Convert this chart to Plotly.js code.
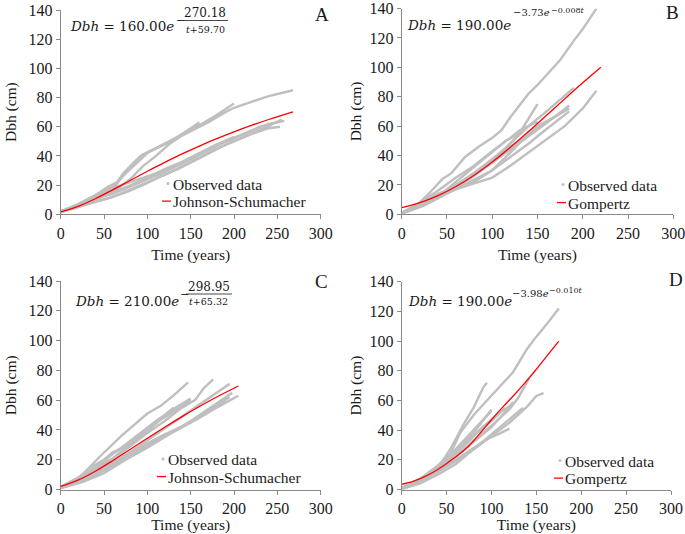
<!DOCTYPE html>
<html><head><meta charset="utf-8">
<script src="https://cdn.plot.ly/plotly-3.0.1.min.js"></script>
<style>html,body{margin:0;padding:0;background:#fff}#chart{width:685px;height:534px}</style>
</head><body><div id="chart"></div>
<script>
// ---------- DATA (time in years, Dbh in cm) ----------
// Each observed tree: [times, dbh]
const obsA = [
  [[0,10,25,40,55,65,72,85,95,110,130,150,170,190,200,220,240,268],[2,4,8,13,19,22,28,36,41,45,51,57,63,70,73,77,81,85]],
  [[0,15,30,45,60,70,80,92,105,120,140,160,180,200],[1.5,5,9,13,17,25,32,40,44,48,55,61,68,76]],
  [[0,15,30,50,62,75,90,100,115,135,150,160],[2,5,10,16,20,28,36,42,47,53,59,63]],
  [[0,20,40,60,80,95,110,125,140,155,160],[2,5,10,15,24,33,40,48,54,60,62]],
  [[0,20,40,60,80,100,120,140,160,180,200,220,240,253],[1.5,5,9,12,17,22,27,33,39,45,50,55,59,60]],
  [[0,20,40,60,80,100,120,140,160,180,200,220,240,258],[2,6,11,14,19,24,29,35,41,47,52,57,62,64]],
  [[0,15,35,55,75,95,115,135,155,175,195,215,235,255],[1.5,4,8,11,15,20,26,31,37,43,49,54,59,65]],
  [[0,20,40,55,70,90,110,130,150,170,190,210,230,250],[2,7,13,17,20,24,28,33,38,44,50,55,60,63]],
  [[0,25,45,65,85,100,120,140,160,180,200],[2,7,12,16,21,25,31,36,42,48,53]]
];
const fitA_t = [0,10,20,40,60,80,100,120,140,160,180,200,220,240,268];
const fitA_d = [1.73,3.32,5.39,10.64,16.75,23.13,29.47,35.58,41.36,46.78,51.83,56.53,60.90,64.96,70.2];

const obsB = [
  [[0,15,30,45,55,70,85,100,110,120,130,140,150,160,175,190,200,215],[1,5,14,24,28,39,46,52,57,66,74,82,88,95,105,118,126,140]],
  [[0,20,40,60,80,100,120,140,160,175,190],[1,6,13,20,28,37,48,60,70,78,86]],
  [[0,20,40,60,80,100,120,140,160,180,200,215],[1,6,12,17,21,25,33,42,51,60,72,84]],
  [[0,20,40,60,80,100,115,130,140,150],[0.5,5,11,18,28,38,45,55,65,75]],
  [[0,25,50,75,100,120,140,160,185],[1,7,15,24,35,44,53,62,74]],
  [[0,25,50,75,100,120,140,160,185],[1,8,16,26,37,46,54,63,72]],
  [[0,25,50,75,100,120,140,160,180,185],[0.5,6,14,22,30,39,48,58,68,70]],
  [[0,20,40,60,80,100,120,140,150,168],[1,7,14,19,22,30,42,55,60,66]],
  [[0,20,40,60,80,100,120,130,150],[1,8,16,25,33,43,52,57,63]],
  [[0,20,40,60,80,100,115,130],[1,6,12,22,32,42,50,55]]
];
const fitB_t = [0,10,20,30,40,60,80,100,120,140,160,180,200,220];
const fitB_d = [4.56,6.07,7.92,10.10,12.66,18.90,26.58,35.56,45.55,56.26,67.36,78.52,89.48,100.0];

const obsC = [
  [[0,20,45,70,100,115,130,147],[1,7,22,36,51,56,63,72]],
  [[0,20,40,60,80,100,120,140,155,165,176],[1.5,6,12,20,29,38,46,55,60,68,74]],
  [[0,20,40,60,80,100,120,140,160,180,195],[1,6,12,18,25,33,41,49,57,65,71]],
  [[0,20,40,60,80,100,120,140,160,180,205],[1,5,11,17,24,31,37,42,48,55,63]],
  [[0,20,40,60,80,100,120,140,160,180,198],[1,5,10,16,22,29,36,42,50,58,65]],
  [[0,20,35,50,70,90,110,130,150],[2,8,15,20,28,37,46,54,61]],
  [[0,20,40,60,80,100,120,140,150],[1,6,14,24,31,40,49,56,60]],
  [[0,20,40,60,75,90,110,130,145],[1,7,15,25,29,36,45,52,57]],
  [[0,25,50,75,100,125,150,170,190],[1,6,13,22,30,38,46,52,60]],
  [[0,25,50,75,100,125,150,175,195],[1,5,11,20,28,37,45,55,62]],
  [[0,20,40,60,80,100,120,130],[1.5,7,14,21,30,39,50,55]]
];
const fitC_t = [0,20,40,60,80,100,120,140,160,180,205];
const fitC_d = [2.16,6.32,12.29,19.33,26.84,34.43,41.84,48.97,55.72,62.09,69.49];

const obsD = [
  [[0,20,40,55,65,80,98,110,124,140,150,165,175],[0,5,14,25,38,50,62,70,79,95,103,114,122]],
  [[0,20,40,55,70,80,91,95],[0.5,5,14,28,45,55,69,72]],
  [[0,20,40,60,80,90,100],[1,6,14,25,38,46,54]],
  [[0,20,40,60,80,100,120,130,142],[1,6,13,22,33,43,54,62,75]],
  [[0,20,40,60,80,100,120,140,150,158],[0.5,5,12,19,27,36,45,56,63,65]],
  [[0,20,40,60,80,95,110,120],[1,5,12,20,28,34,38,41]],
  [[0,20,40,60,80,100,115,124],[0.5,5,13,22,32,42,52,59]],
  [[0,20,40,60,80,95,100],[1,7,16,27,40,50,53]],
  [[0,25,50,70,90,110,125],[0.5,6,18,30,42,52,58]],
  [[0,20,40,60,80,100,115],[1,6,14,24,36,46,55]],
  [[0,20,40,60,80,100,120,135],[0.5,4,10,17,27,37,47,55]]
];
const fitD_t = [0,12.5,25,37.5,50,62.5,75,87.5,100,112.5,125,137.5,150,162.5,175];
const fitD_d = [3.5,5.5,8.5,12.5,17.5,23,29.5,38,47,55.5,63.5,72,81,90.5,100];

const xTicks = [0,50,100,150,200,250,300];
const yTicks = [0,20,40,60,80,100,120,140];
const obsName = 'Observed data';
const fitNames = ['Johnson-Schumacher','Gompertz','Johnson-Schumacher','Gompertz'];
const panelLetters = ['A','B','C','D'];

// ---------- BUILD ----------
const W = 685, H = 534;
const px = v => v / W;
const py = v => 1 - v / H;
const GRAY = '#bfbfbf', TXT = '#1a1a1a', AX = '#8a8a8a';
const SERIF = 'Liberation Serif, Times New Roman, serif';
const MATH = 'DejaVu Serif, serif';
const TXTSIZE = 15.5;
const LEGSIZE = 15.5;

function joinTracks(tracks) {
  const x = [], y = [];
  tracks.forEach((tr, i) => {
    if (i > 0) { x.push(null); y.push(null); }
    x.push(...tr[0]); y.push(...tr[1]);
  });
  return {x, y};
}

const panels = [
  {obs: obsA, ft: fitA_t, fd: fitA_d, xa:'x',  ya:'y'},
  {obs: obsB, ft: fitB_t, fd: fitB_d, xa:'x2', ya:'y2'},
  {obs: obsC, ft: fitC_t, fd: fitC_d, xa:'x3', ya:'y3'},
  {obs: obsD, ft: fitD_t, fd: fitD_d, xa:'x4', ya:'y4'}
];
const lgName = n => n === 1 ? 'legend' : 'legend' + n;

const traces = [];
panels.forEach((p, i) => {
  const j = joinTracks(p.obs);
  traces.push({x: j.x, y: j.y, mode:'lines', line:{color:GRAY, width:2.4},
    xaxis:p.xa, yaxis:p.ya, showlegend:false, hoverinfo:'skip', connectgaps:false});
  traces.push({x:[p.obs[0][0][0]], y:[p.obs[0][1][0]], mode:'markers', name: obsName,
    marker:{color:GRAY, size:3}, xaxis:p.xa, yaxis:p.ya, legend:lgName(2*i+1), showlegend:true});
  traces.push({x:p.ft, y:p.fd, mode:'lines', name: fitNames[i],
    line:{color:'#ff0000', width:1.3, shape:'spline'}, xaxis:p.xa, yaxis:p.ya, legend:lgName(2*i+2)});
});

// domains in pixels
const dom = [
  {x:[60.7,320.7], y:[10,214.3]},
  {x:[401.7,673.3], y:[8.5,214.3]},
  {x:[60.7,320.7], y:[281,489.5]},
  {x:[401.7,671], y:[281.7,489.5]}
];
const xStand = [8, 8, 8, 7];
const yStand = [8, 4, 8, 4];

function xAxis(i) {
  return {domain:[px(dom[i].x[0]), px(dom[i].x[1])], anchor: i===0?'y':'y'+(i+1),
    range:[0,300], tickvals:xTicks, showline:true, linecolor:AX, linewidth:1,
    ticks:'outside', ticklen:4, tickcolor:AX, showgrid:false, zeroline:false,
    tickfont:{family:SERIF, size:16, color:TXT}, automargin:false, ticklabeloverflow:'allow',
    title:{text:'Time (years)', font:{family:SERIF, size:TXTSIZE, color:TXT}, standoff:xStand[i]}};
}
function yAxis(i) {
  return {domain:[py(dom[i].y[1]), py(dom[i].y[0])], anchor: i===0?'x':'x'+(i+1),
    range:[0,140], tickvals:yTicks, showline:true, linecolor:AX, linewidth:1,
    ticks:'outside', ticklen:4, tickcolor:AX, showgrid:false, zeroline:false,
    tickfont:{family:SERIF, size:16, color:TXT}, automargin:false, ticklabeloverflow:'allow',
    title:{text:'Dbh (cm)', font:{family:SERIF, size:TXTSIZE, color:TXT}, standoff:yStand[i]}};
}

// one legend per entry: [text left px, row centre px]
const legendRows = [[173,184],[173,201.5],[568,185],[568,203],[168,459.5],[168,477],[565,461],[565,478.5]];
function legendAt(r) {
  return {x:px(r[0]-40), y:py(r[1]-17), xanchor:'left', yanchor:'top', bgcolor:'rgba(0,0,0,0)',
    font:{family:SERIF, size:LEGSIZE, color:TXT}, itemwidth:30, borderwidth:0};
}

function ann(text, x, y, size, family, anchor) {
  return {text, x:px(x), y:py(y), xref:'paper', yref:'paper', showarrow:false,
    xanchor: anchor || 'left', yanchor:'middle', font:{family: family || MATH, size, color:TXT}};
}

const annotations = [
  // A
  ann('<i>Dbh</i> = 160.00<i>e</i>', 68, 26, 13.5),
  ann('−', 174, 20.5, 11),
  ann('270.18', 205, 12.5, 12, MATH, 'center'),
  ann('<i>t</i>+59.70', 205.5, 29, 9.5, MATH, 'center'),
  // B
  ann('<i>Dbh</i> = 190.00<i>e</i>', 405, 25, 13.5),
  ann('−3.73<i>e</i>', 511, 13, 10),
  ann('−0.008<i>t</i>', 549, 10, 8),
  // C
  ann('<i>Dbh</i> = 210.00<i>e</i>', 73, 300.5, 13.5),
  ann('−', 178, 294, 11),
  ann('298.95', 209, 287, 12, MATH, 'center'),
  ann('<i>t</i>+65.32', 208.5, 301.5, 9.5, MATH, 'center'),
  // D
  ann('<i>Dbh</i> = 190.00<i>e</i>', 406, 300.5, 13.5),
  ann('−3.98<i>e</i>', 510, 293, 10),
  ann('−0.010<i>t</i>', 547, 290, 8),
  // letters
  ann(panelLetters[0], 321.5, 15, 19, SERIF, 'center'),
  ann(panelLetters[1], 672.5, 13, 19, SERIF, 'center'),
  ann(panelLetters[2], 321.5, 281, 19, SERIF, 'center'),
  ann(panelLetters[3], 676, 279, 19, SERIF, 'center')
];

const fracLine = (x0, x1, y) => ({type:'line', xref:'paper', yref:'paper',
  x0:px(x0), x1:px(x1), y0:py(y), y1:py(y), line:{color:TXT, width:0.8}});

const layout = {
  width:W, height:H, margin:{l:0,r:0,t:0,b:0},
  paper_bgcolor:'#fff', plot_bgcolor:'rgba(0,0,0,0)',
  xaxis:xAxis(0), yaxis:yAxis(0), xaxis2:xAxis(1), yaxis2:yAxis(1),
  xaxis3:xAxis(2), yaxis3:yAxis(2), xaxis4:xAxis(3), yaxis4:yAxis(3),
  annotations,
  shapes:[fracLine(183,228,20.5), fracLine(186,232,294)]
};
legendRows.forEach((r, k) => { layout[lgName(k+1)] = legendAt(r); });

Plotly.newPlot('chart', traces, layout, {displayModeBar:false, staticPlot:true}).then(gd => {
  // shorten legend symbols so they sit just before the text, as in the reference
  gd.querySelectorAll('.legendlines path').forEach(p => p.setAttribute('d', 'M29,0h9'));
  gd.querySelectorAll('.legendpoints path').forEach(p => p.setAttribute('transform', 'translate(35,0)'));
});
</script></body></html>
